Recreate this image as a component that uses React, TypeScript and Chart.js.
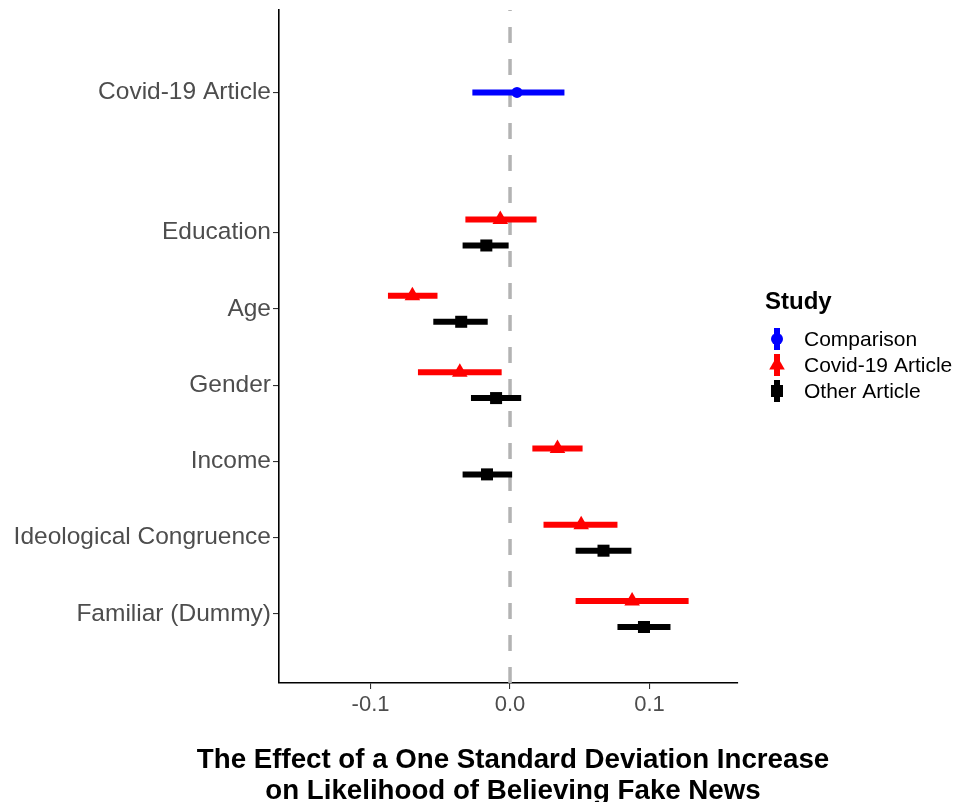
import React, { useEffect, useRef } from "react";
import { Chart, registerables } from "chart.js";

Chart.register(...registerables);

const FONT = "'Liberation Sans', Arial, Helvetica, sans-serif";

// Categories (top to bottom) and their y positions on the numeric axis
const categories = [
  "Covid-19 Article",
  "Education",
  "Age",
  "Gender",
  "Income",
  "Ideological Congruence",
  "Familiar (Dummy)",
];
const categoryPos = [7.835, 6, 5, 4, 3, 2, 1];

// Comparison study (only Covid-19 Article row)
const comparisonEst = [0.005];
const comparisonLo = [-0.027];
const comparisonHi = [0.039];

// Covid-19 Article study (Education .. Familiar)
const covidEst = [-0.007, -0.07, -0.036, 0.034, 0.051, 0.0875];
const covidLo = [-0.032, -0.0875, -0.066, 0.016, 0.024, 0.047];
const covidHi = [0.019, -0.052, -0.006, 0.052, 0.077, 0.128];

// Other Article study (Education .. Familiar)
const otherEst = [-0.017, -0.035, -0.01, -0.0165, 0.067, 0.096];
const otherLo = [-0.034, -0.055, -0.028, -0.034, 0.047, 0.077];
const otherHi = [-0.001, -0.016, 0.008, 0.0015, 0.087, 0.115];

const xTicks = [-0.1, 0, 0.1];
const xMin = -0.1656;
const xMax = 0.1634;
const yMin = 0.096;
const yMax = 8.916;
const dodge = 0.17;

const xTitleLines = [
  "The Effect of a One Standard Deviation Increase",
  "on Likelihood of Believing Fake News",
];
const legendTitle = "Study";

const studies = [
  { name: "Comparison", color: "#0000ff", shape: "circle", radius: 5.5 },
  { name: "Covid-19 Article", color: "#ff0000", shape: "triangle", radius: 9 },
  { name: "Other Article", color: "#000000", shape: "rect", radius: 8.5 },
];

function buildDatasets() {
  const ds: any[] = [];
  const addStudy = (
    study: any,
    est: number[],
    lo: number[],
    hi: number[],
    ys: number[]
  ) => {
    for (let i = 0; i < est.length; i++) {
      ds.push({
        type: "scatter",
        showLine: true,
        data: [
          { x: lo[i], y: ys[i] },
          { x: hi[i], y: ys[i] },
        ],
        borderColor: study.color,
        borderWidth: 6,
        borderCapStyle: "butt",
        pointRadius: 0,
        order: 5,
      });
    }
    ds.push({
      type: "scatter",
      data: est.map((v, i) => ({ x: v, y: ys[i] })),
      pointStyle: study.shape,
      pointRadius: study.radius,
      backgroundColor: study.color,
      borderColor: study.color,
      borderWidth: 0,
      order: 1,
    });
  };
  addStudy(studies[0], comparisonEst, comparisonLo, comparisonHi, [categoryPos[0]]);
  addStudy(
    studies[1],
    covidEst,
    covidLo,
    covidHi,
    categoryPos.slice(1).map((p) => p + dodge)
  );
  addStudy(
    studies[2],
    otherEst,
    otherLo,
    otherHi,
    categoryPos.slice(1).map((p) => p - dodge)
  );
  ds.push({
    type: "scatter",
    showLine: true,
    data: [
      { x: 0, y: yMin },
      { x: 0, y: yMax },
    ],
    borderColor: "#b3b3b3",
    borderWidth: 3.5,
    borderDash: [16, 16],
    borderCapStyle: "butt",
    pointRadius: 0,
    order: 10,
  });
  return ds;
}

const overlayPlugin = {
  id: "overlay",
  afterDraw(chart: any) {
    const ctx = chart.ctx;
    ctx.save();
    // X axis title
    ctx.fillStyle = "#000";
    ctx.font = `bold 27.7px ${FONT}`;
    ctx.textAlign = "center";
    ctx.textBaseline = "alphabetic";
    ctx.fillText(xTitleLines[0], 513, 768);
    ctx.fillText(xTitleLines[1], 513, 799);

    // Legend
    ctx.textAlign = "left";
    ctx.textBaseline = "middle";
    ctx.font = `bold 24px ${FONT}`;
    ctx.fillText(legendTitle, 765, 302);
    ctx.font = `21px ${FONT}`;
    studies.forEach((s, i) => {
      const cy = 339 + i * 26;
      const cx = 777;
      ctx.strokeStyle = s.color;
      ctx.lineWidth = 6;
      ctx.beginPath();
      ctx.moveTo(cx, cy - 11);
      ctx.lineTo(cx, cy + 11);
      ctx.stroke();
      ctx.fillStyle = s.color;
      ctx.beginPath();
      if (s.shape === "circle") {
        ctx.arc(cx, cy, 6, 0, Math.PI * 2);
      } else if (s.shape === "triangle") {
        const r = 9;
        ctx.moveTo(cx, cy - r);
        ctx.lineTo(cx + r * 0.866, cy + r / 2);
        ctx.lineTo(cx - r * 0.866, cy + r / 2);
        ctx.closePath();
      } else {
        ctx.rect(cx - 6, cy - 6, 12, 12);
      }
      ctx.fill();
      ctx.fillStyle = "#000";
      ctx.fillText(s.name, 804, cy + 1);
    });
    ctx.restore();
  },
};

export default function App() {
  const ref = useRef<HTMLCanvasElement | null>(null);
  useEffect(() => {
    document.body.style.margin = "0";
    if (!ref.current) return;
    const chart = new Chart(ref.current, {
      type: "scatter",
      data: { datasets: buildDatasets() },
      options: {
        animation: false,
        responsive: false,
        devicePixelRatio: 1,
        layout: { padding: { top: 10, right: 220, left: 0, bottom: 0 } },
        plugins: {
          legend: { display: false },
          tooltip: { enabled: false },
          title: { display: false },
        },
        scales: {
          x: {
            type: "linear",
            min: xMin,
            max: xMax,
            afterBuildTicks: (s: any) => {
              s.ticks = xTicks.map((v) => ({ value: v }));
            },
            afterFit: (s: any) => {
              s.height = 119;
              s.paddingLeft = 0;
              s.paddingRight = 0;
            },
            ticks: {
              callback: (v: any) => Number(v).toFixed(1),
              font: { size: 22, family: FONT },
              color: "#4d4d4d",
              padding: 3,
              maxRotation: 0,
            },
            grid: {
              drawOnChartArea: false,
              drawTicks: true,
              tickLength: 6,
              color: "#333333",
              lineWidth: 1.1,
            },
            border: { display: true, color: "#000", width: 1.6 },
          },
          y: {
            type: "linear",
            min: yMin,
            max: yMax,
            afterBuildTicks: (s: any) => {
              s.ticks = categoryPos.map((v) => ({ value: v }));
            },
            afterFit: (s: any) => {
              s.width = 279;
              s.paddingTop = 0;
              s.paddingBottom = 0;
            },
            ticks: {
              callback: (_v: any, i: number) => categories[i],
              font: { size: 24.5, family: FONT },
              color: "#4d4d4d",
              padding: 2,
            },
            grid: {
              drawOnChartArea: false,
              drawTicks: true,
              tickLength: 6,
              color: "#333333",
              lineWidth: 1.1,
            },
            border: { display: true, color: "#000", width: 1.6 },
          },
        },
      },
      plugins: [overlayPlugin],
    } as any);
    return () => chart.destroy();
  }, []);
  return (
    <div style={{ width: 958, height: 802 }}>
      <canvas ref={ref} width={958} height={802} />
    </div>
  );
}
